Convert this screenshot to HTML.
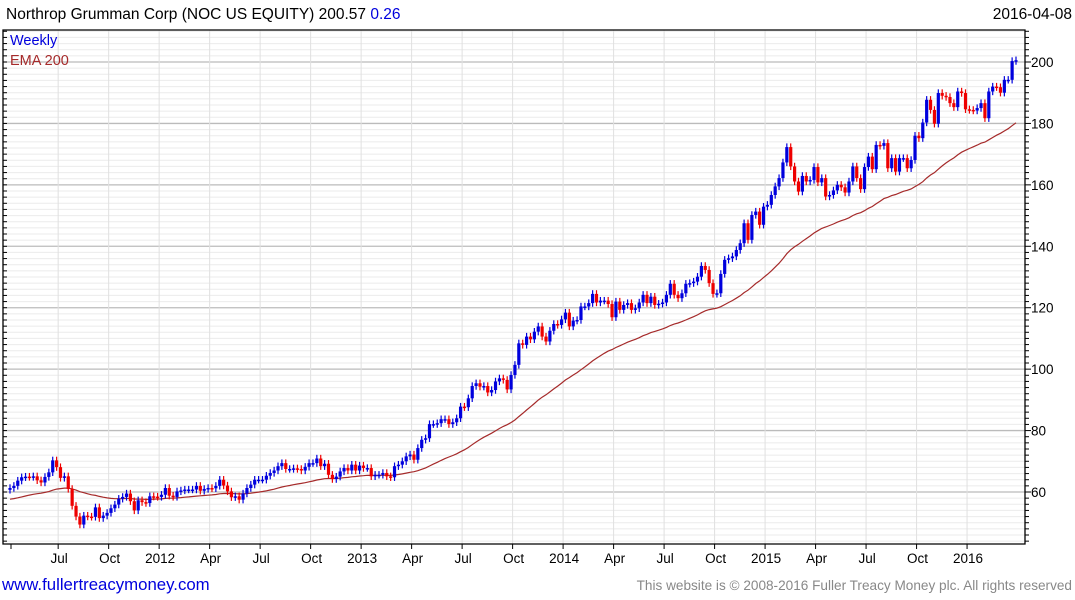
<!DOCTYPE html>
<html><head><meta charset="utf-8"><style>
body{margin:0;background:#fff;width:1075px;height:600px;overflow:hidden;font-family:"Liberation Sans",sans-serif}
svg{position:absolute;left:0;top:0}
</style></head><body>
<svg id="c" width="1075" height="600">
<text x="6" y="19" font-size="15.5" fill="#000">Northrop Grumman Corp (NOC US EQUITY) 200.57 <tspan fill="#0000dd">0.26</tspan></text>
<text x="1072" y="19" font-size="15.5" text-anchor="end" fill="#000">2016-04-08</text>
<g id="grid"></g>
<g id="ema"></g>
<g id="candles"></g>
<g id="axes"></g>
<text x="10" y="45" font-size="14.5" fill="#0000dd">Weekly</text>
<text x="10" y="65" font-size="14.5" fill="#a52a2a">EMA 200</text>
<text x="2" y="590" font-size="16.8" fill="#0000dd">www.fullertreacymoney.com</text>
<text x="1072" y="590" font-size="13.6" fill="#888" text-anchor="end">This website is © 2008-2016 Fuller Treacy Money plc. All rights reserved</text>
</svg>
<script>
const closes=[61.3,62,63.7,64.8,65,64.9,65.1,63.8,63.1,64.9,66.4,70.3,68.1,64.6,65.1,61,55.5,52,49.4,52.3,52,51.9,55,51.5,52.3,53.2,54.7,55.9,57.8,58.4,59.5,57,54,57.3,56.7,56.4,58.6,58.5,58.4,59.1,61.3,58.8,58.4,60.2,60.5,60.8,60.8,60.8,62,60.4,61,61.3,61.2,62,64,62.1,60.2,58.3,58.6,57.5,59.5,61.3,62.4,64,64,64,65.3,66.2,67,68.4,69.4,67.5,67.5,67.7,67.5,67,68.2,69.4,69.4,70.9,68.4,69.2,65.6,64.2,65,66.7,67.8,67,68.9,67,68.6,67.8,67.8,65.1,65.6,65.6,66.2,65.1,64.8,68.4,68.9,70,71.6,72.2,70.5,74.3,
77,77.5,82.1,82.1,82.4,83.7,83.7,82.1,82.7,84,87.8,87.6,90.5,94.5,95.4,94.3,94.5,92.4,93.2,96,97,96.5,93.4,98.1,101.4,108.4,107.9,110.6,109.7,112.2,113.9,110.6,109,112.5,114.7,114.4,116.2,118.4,113.9,115.8,116,120.4,120.4,121.5,124.5,121.7,122.3,122.3,121.2,116.9,122,119.3,120.9,121.5,119.3,119.8,121.7,124.2,121.5,123.6,120.9,121.3,121.7,124.2,127.8,124.2,123.1,124.7,127.8,128,128.5,130.1,133.6,132.3,128,124.5,124.7,131,135.6,
136.1,136.7,138.8,141,147.5,142.1,150.2,151.3,147,152.9,153.5,156.7,159.5,162.2,167.3,172.3,166,161.1,157.8,162.9,161.1,161.6,165.8,160.8,162.2,156.2,156.7,158.2,160,159.2,157.5,161.1,166,162.2,158.6,165.8,169.2,165.1,173,172.7,173.6,165.4,168.7,164.3,168.7,168.7,165.4,168.1,176,175.2,180.3,187.7,184.4,179.9,189.9,189,188.6,186.6,185.3,190.4,189.9,184.6,184.4,184.2,185,186.6,181.7,190.4,192,191.8,190,194.2,194.2,200.31,200.57];
const emaSeed=57.5;
const emaPeriodWeeks=44;
const yTicks=[60,80,100,120,140,160,180,200];
const xLabels=["Jul","Oct","2012","Apr","Jul","Oct","2013","Apr","Jul","Oct","2014","Apr","Jul","Oct","2015","Apr","Jul","Oct","2016"];
const xLabelPos=[12.4,25.4,38.4,51.4,64.4,77.4,90.4,103.4,116.4,129.4,142.4,155.4,168.4,181.4,194.4,207.4,220.4,233.4,246.4]; // in week index units
const NS="http://www.w3.org/2000/svg";
const L=3,R=1025,T=30,B=544;
const n=closes.length;
const xs=i=>10+i*(1016-10)/(n-1);
const ys=v=>492-(v-60)*(430/140);
function mk(tag,attrs,parent){const e=document.createElementNS(NS,tag);for(const k in attrs)e.setAttribute(k,attrs[k]);parent.appendChild(e);return e;}
const grid=document.getElementById('grid'),axes=document.getElementById('axes');
for(let v=44;v<=212;v+=2){const y=ys(v);if(y<T||y>B)continue;const major=v%20===0;
 const l=mk('line',{x1:L,x2:R,y1:y,y2:y,stroke:major?'#bbb':'#ebebeb','stroke-width':major?1.3:1},grid);
 
 
 const t=mk('line',{x1:R,x2:R+(major?6:4),y1:y,y2:y,stroke:'#000'},axes);
 
 
 const t2=mk('line',{x1:L,x2:L+4,y1:y,y2:y,stroke:'#000'},axes);
 
 }
yTicks.forEach(v=>{const t=mk('text',{x:R+6,y:ys(v)+5,'font-size':13.5,fill:'#000'},axes);t.textContent=v;
 
 });
xLabels.forEach((s,k)=>{const x=xs(xLabelPos[k]);
 const g=mk('line',{x1:x,x2:x,y1:T,y2:B,stroke:'#e0e0e0'},grid);
 
 
 const t=mk('line',{x1:x,x2:x,y1:B,y2:B+5,stroke:'#000'},axes);
 
 
 const tx=mk('text',{x:x+1,y:563,'font-size':13.5,'text-anchor':'middle',fill:'#000'},axes);tx.textContent=s;
 
 });
{const t=mk('line',{x1:11,x2:11,y1:B,y2:B+5,stroke:'#000'},axes);}
const frame=mk('path',{d:`M${L},${T}H${R}V${B}H${L}Z`,fill:'none',stroke:'#000','stroke-width':1.3},axes);


// EMA
let e=emaSeed;const a=2/(emaPeriodWeeks+1);let pts=[];
closes.forEach((c,i)=>{e=e+a*(c-e);pts.push(xs(i).toFixed(1)+','+ys(e).toFixed(1));});
const ema=mk('polyline',{points:pts.join(' '),fill:'none',stroke:'#a52a2a','stroke-width':1.2},document.getElementById('ema'));


// candles
const cg=document.getElementById('candles');
closes.forEach((c,i)=>{const o=i?closes[i-1]:c-0.6;const col=c>=o?'#0000dd':'#ee0000';
 const hi=Math.max(o,c)+1.2,lo=Math.min(o,c)-1.2;const x=xs(i);
 const g=mk('g',{},cg);
 
 
 mk('line',{x1:x,x2:x,y1:ys(hi),y2:ys(lo),stroke:col,'stroke-width':1.2},g);
 const y1=ys(Math.max(o,c)),h=Math.max(1.5,ys(Math.min(o,c))-y1);
 mk('rect',{x:x-1.6,y:y1,width:3.2,height:h,fill:col},g);});
</script>
</body></html>
